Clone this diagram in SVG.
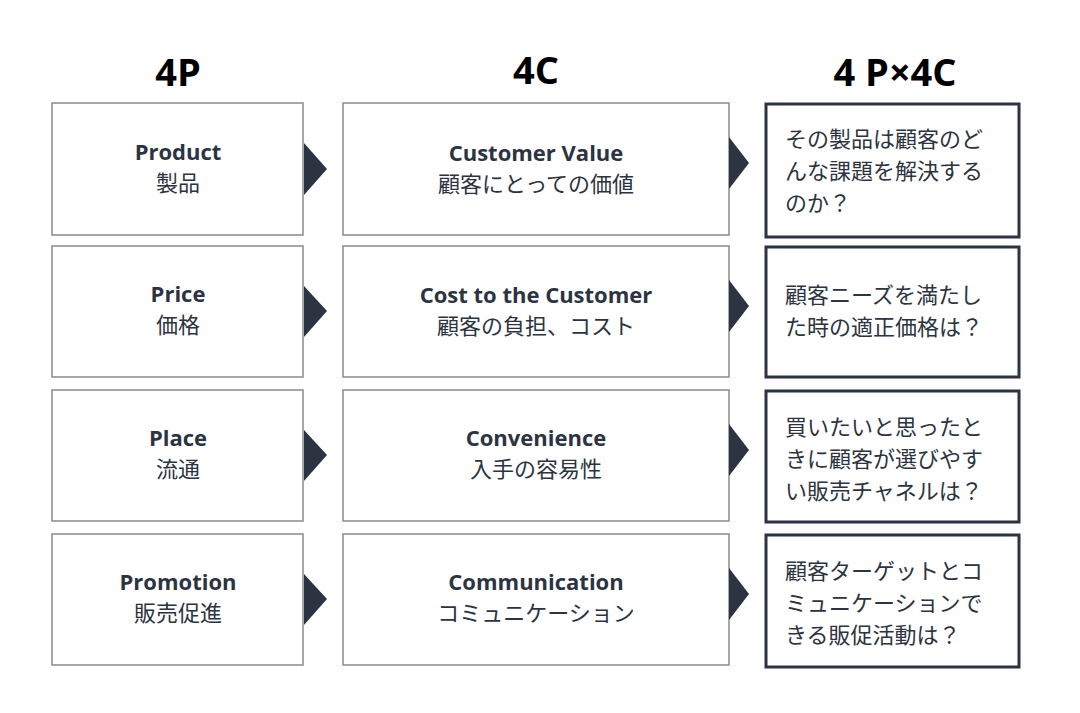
<svg xmlns="http://www.w3.org/2000/svg" width="1080" height="713" viewBox="0 0 1080 713">
<style>
.h{font-family:"Open Sans","Noto Sans CJK JP",sans-serif;font-weight:bold;font-size:38px;fill:#000;text-anchor:middle}
.b{fill:#fff;stroke:#8a8a8a;stroke-width:1.5}
.c{fill:#fff;stroke:#2b3440;stroke-width:3}
.en{font-family:"Open Sans","Noto Sans CJK JP",sans-serif;font-weight:bold;font-size:22px;fill:#2b3440;text-anchor:middle}
.jp{font-family:"Noto Sans CJK JP",sans-serif;font-size:22px;fill:#2b3440;text-anchor:middle}
.t{font-family:"Noto Sans CJK JP",sans-serif;font-size:22px;fill:#2b3440}
.a{fill:#2b3440}
</style>
<rect width="1080" height="713" fill="#fff"/>
<text class="h" x="178" y="86">4P</text>
<text class="h" x="536" y="84">4C</text>
<text class="h" x="895" y="86">4 P×4C</text>
<g id="p1"><rect class="b" x="52" y="103" width="251" height="132"/><text class="en" x="178" y="160">Product</text><text class="jp" x="178" y="191">製品</text></g>
<g id="p2"><rect class="b" x="52" y="246" width="251" height="131"/><text class="en" x="178" y="302">Price</text><text class="jp" x="178" y="333">価格</text></g>
<g id="p3"><rect class="b" x="52" y="390" width="251" height="131"/><text class="en" x="178" y="446">Place</text><text class="jp" x="178" y="477">流通</text></g>
<g id="p4"><rect class="b" x="52" y="534" width="251" height="131"/><text class="en" x="178" y="590">Promotion</text><text class="jp" x="178" y="621">販売促進</text></g>
<g id="c1"><rect class="b" x="343" y="103" width="386" height="132"/><text class="en" x="536" y="161">Customer Value</text><text class="jp" x="536" y="192">顧客にとっての価値</text></g>
<g id="c2"><rect class="b" x="343" y="246" width="386" height="131"/><text class="en" x="536" y="303">Cost to the Customer</text><text class="jp" x="536" y="334">顧客の負担、コスト</text></g>
<g id="c3"><rect class="b" x="343" y="390" width="386" height="131"/><text class="en" x="536" y="446">Convenience</text><text class="jp" x="536" y="477">入手の容易性</text></g>
<g id="c4"><rect class="b" x="343" y="534" width="386" height="131"/><text class="en" x="536" y="590">Communication</text><text class="jp" x="536" y="621">コミュニケーション</text></g>
<g id="x1"><rect class="c" x="766" y="104" width="253" height="133"/><text class="t" x="785" y="147">その製品は顧客のど</text><text class="t" x="785" y="179">んな課題を解決する</text><text class="t" x="785" y="211">のか？</text></g>
<g id="x2"><rect class="c" x="766" y="247" width="253" height="130"/><text class="t" x="785" y="303">顧客ニーズを満たし</text><text class="t" x="785" y="335">た時の適正価格は？</text></g>
<g id="x3"><rect class="c" x="766" y="391" width="253" height="131"/><text class="t" x="785" y="435">買いたいと思ったと</text><text class="t" x="785" y="467">きに顧客が選びやす</text><text class="t" x="785" y="499">い販売チャネルは？</text></g>
<g id="x4"><rect class="c" x="766" y="535" width="253" height="132"/><text class="t" x="785" y="579">顧客ターゲットとコ</text><text class="t" x="785" y="611">ミュニケーションで</text><text class="t" x="785" y="643">きる販促活動は？</text></g>
<g id="connectors">
<polygon class="a" points="304,143 327,169 304,195"/>
<polygon class="a" points="304,286 327,311 304,337"/>
<polygon class="a" points="304,430 327,455 304,481"/>
<polygon class="a" points="304,574 327,599 304,625"/>
<polygon class="a" points="729,137 749,163 729,189"/>
<polygon class="a" points="729,280 749,306 729,332"/>
<polygon class="a" points="729,424 749,450 729,476"/>
<polygon class="a" points="729,568 749,594 729,620"/>
</g>
</svg>
